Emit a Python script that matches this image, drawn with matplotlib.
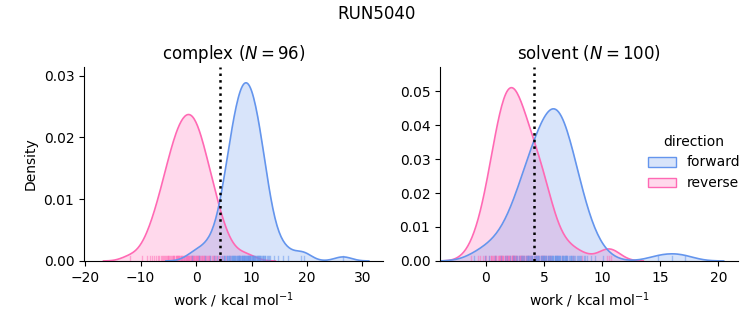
import numpy as np
import matplotlib
matplotlib.use("Agg")
import matplotlib.pyplot as plt
from matplotlib.patches import Patch

# work values (kcal/mol) for each phase and direction
complex_forward = [
    -0.8, 0.5, 1.6, 2.5, 3.2, 3.8, 4.3,
    4.7, 5.0, 5.1, 5.3, 5.5, 5.6, 5.8, 5.9, 6.0, 6.2, 6.3, 6.4, 6.5, 6.6,
    6.7, 6.8, 6.9, 7.0, 7.1, 7.2, 7.3, 7.4, 7.5, 7.6, 7.7, 7.8, 7.8, 7.9,
    8.0, 8.1, 8.2, 8.3, 8.3, 8.4, 8.5, 8.6, 8.6, 8.7, 8.8, 8.9, 9.0,
    9.0, 9.1, 9.2, 9.3, 9.4, 9.4, 9.5, 9.6, 9.7, 9.8, 9.8, 9.9, 10.0, 10.1,
    10.2, 10.3, 10.3, 10.4, 10.5, 10.6, 10.7, 10.8, 10.9, 11.0, 11.1, 11.2,
    11.3, 11.4, 11.5, 11.6, 11.7, 11.9, 12.0, 12.1, 12.2, 12.4, 12.5, 12.7,
    12.9, 13.1, 13.3,
    14.0, 14.8, 15.6, 16.5, 19.0, 19.5, 26.5,
]
complex_reverse = [
    -12.0, -9.7, -8.9, -8.3, -7.9, -7.5, -7.2, -6.9, -6.6, -6.4, -6.2, -6.0,
    -5.8, -5.6, -5.4, -5.3, -5.1, -5.0, -4.8, -4.7, -4.5, -4.4, -4.2, -4.1,
    -4.0, -3.9, -3.7, -3.6, -3.5, -3.4, -3.3, -3.2, -3.1, -3.0, -2.9, -2.8,
    -2.7, -2.6, -2.5, -2.4, -2.2, -2.1, -2.0, -1.9, -1.8, -1.7, -1.6, -1.5,
    -1.4, -1.3, -1.2, -1.1, -1.0, -0.9, -0.8, -0.7, -0.6, -0.5, -0.4, -0.3,
    -0.2, -0.1, 0.0, 0.1, 0.2, 0.3, 0.4, 0.5, 0.6, 0.7, 0.9, 1.0,
    1.1, 1.2, 1.4, 1.5, 1.7, 1.8, 2.0, 2.1, 2.3, 2.4, 2.6, 2.8,
    3.0, 3.2, 3.4, 3.6, 3.9, 4.2, 4.5, 4.9, 5.4, 6.2, 7.8, 9.6,
]
solvent_forward = [
    -1.0, 0.3,
    -0.1, 0.8, 1.3, 1.6, 1.8, 2.1, 2.3, 2.4, 2.6, 2.7, 2.8, 3.0,
    3.1, 3.2, 3.3, 3.4, 3.5, 3.6, 3.6, 3.7, 3.8, 3.9, 4.0, 4.0,
    4.1, 4.2, 4.3, 4.3, 4.4, 4.5, 4.5, 4.6, 4.7, 4.7, 4.8, 4.9,
    4.9, 5.0, 5.0, 5.1, 5.2, 5.2, 5.3, 5.3, 5.4, 5.5, 5.5, 5.6,
    5.7, 5.7, 5.8, 5.8, 5.9, 5.9, 5.9, 6.0, 6.0, 6.1, 6.1, 6.2,
    6.2, 6.3, 6.3, 6.4, 6.4, 6.5, 6.5, 6.6, 6.6, 6.7, 6.8, 6.8,
    6.9, 6.9, 7.0, 7.0, 7.1, 7.2, 7.3, 7.3, 7.4, 7.5, 7.6, 7.7,
    7.8, 7.9, 8.0, 8.1, 8.2, 8.4, 8.5, 8.7, 9.0, 9.4, 10.1,
    14.8, 16.0, 17.1,
]
solvent_reverse = [
    -1.3, -0.7, -0.5, -0.3, -0.1, 0.0, 0.3, 0.4, 0.4, 0.5, 0.6, 0.7,
    0.8, 0.8, 0.9, 0.9, 1.0, 1.1, 1.1, 1.2, 1.2, 1.3, 1.3, 1.4,
    1.4, 1.5, 1.5, 1.6, 1.6, 1.7, 1.7, 1.8, 1.8, 1.9, 1.9, 2.0,
    2.0, 2.1, 2.1, 2.2, 2.2, 2.2, 2.3,
    2.3, 2.3, 2.4, 2.4, 2.5, 2.5, 2.6, 2.6, 2.7, 2.8, 2.8,
    2.9, 2.9, 3.0, 3.0, 3.1, 3.1, 3.2, 3.3, 3.3, 3.4, 3.4, 3.5,
    3.6, 3.6, 3.7, 3.8, 3.9, 3.9, 4.0, 4.1, 4.2, 4.3, 4.3, 4.4, 4.5,
    4.6, 4.7, 4.8, 4.8, 4.9, 5.0, 5.1, 5.2, 5.3, 5.4, 5.5, 5.6,
    6.1, 6.5, 6.9, 7.5, 8.3, 10.4, 10.6, 10.8,
]

# free energy estimate marked on each panel
complex_estimate = 4.4
solvent_estimate = 4.1

# sample count each phase's densities are normalised by
norm_count = {"complex": 392, "solvent": 370}

colors = {"forward": "#6495ED", "reverse": "#FF69B4"}
phases = [
    ("complex", {"forward": complex_forward, "reverse": complex_reverse}, complex_estimate),
    ("solvent", {"forward": solvent_forward, "reverse": solvent_reverse}, solvent_estimate),
]


def kde(values, total, cut=3, gridsize=200):
    v = np.asarray(values, dtype=float)
    h = v.std(ddof=1) * len(v) ** (-1 / 5)
    grid = np.linspace(v.min() - cut * h, v.max() + cut * h, gridsize)
    z = (grid[:, None] - v[None, :]) / h
    dens = np.exp(-0.5 * z ** 2).sum(axis=1) / (len(v) * h * np.sqrt(2 * np.pi))
    return grid, dens * len(v) / total


fig = plt.figure(figsize=(7.53, 3.25), dpi=100)
ax1 = fig.add_axes([0.1116, 0.197, 0.397, 0.597])
ax2 = fig.add_axes([0.5843, 0.197, 0.396, 0.597])
axes = [ax1, ax2]

for ax, (phase, data, estimate) in zip(axes, phases):
    for direction in ["reverse", "forward"]:
        c = colors[direction]
        x, y = kde(data[direction], norm_count[phase])
        ax.fill_between(x, 0, y, color=c, alpha=0.25, linewidth=0)
        ax.plot(x, y, color=c, lw=1.2)
        for w in data[direction]:
            ax.axvline(w, ymin=0, ymax=0.025, color=c, alpha=0.5, lw=1)
    ax.axvline(estimate, color="black", ls=":", lw=1.8)
    n = len(data["forward"])
    ax.set_title(f"{phase} ($N = {n}$)", fontsize=12)
    ax.set_xlabel("work / kcal mol$^{-1}$")
    ax.spines["top"].set_visible(False)
    ax.spines["right"].set_visible(False)

ax1.set_xlim(-20.2, 33.7)
ax1.set_ylim(0, 0.0314)
ax1.set_yticks([0, 0.01, 0.02, 0.03])
ax1.set_ylabel("Density")
ax2.set_xlim(-3.96, 21.7)
ax2.set_ylim(0, 0.0571)
ax2.set_xticks([0, 5, 10, 15, 20])

handles = [Patch(facecolor=matplotlib.colors.to_rgba(colors[d], 0.25),
                 edgecolor=colors[d], label=d) for d in ["forward", "reverse"]]
fig.legend(handles=handles, title="direction", loc="center right",
           frameon=False, bbox_to_anchor=(1.0, 0.5))
fig.suptitle("RUN5040", fontsize=12, y=0.985)

fig.savefig("out.png", dpi=100)
